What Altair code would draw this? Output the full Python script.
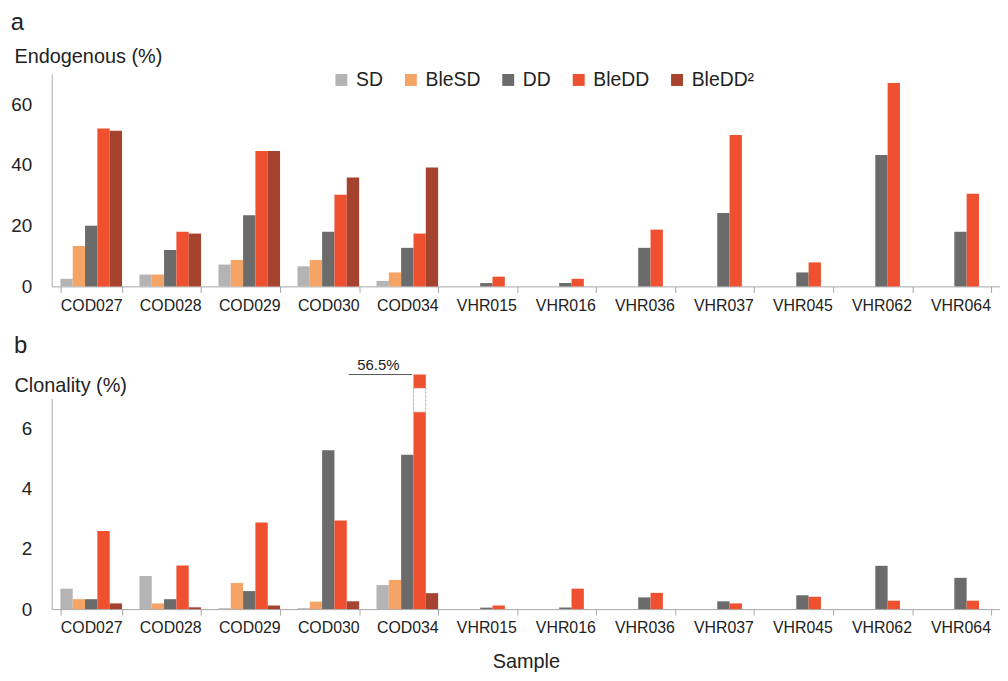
import altair as alt
import pandas as pd

samples = ["COD027", "COD028", "COD029", "COD030", "COD034", "VHR015",
           "VHR016", "VHR036", "VHR037", "VHR045", "VHR062", "VHR064"]
series = ["SD", "BleSD", "DD", "BleDD", "BleDD²"]
colors = ["#b4b4b4", "#f6a366", "#6b6b6b", "#ee5030", "#a6432f"]

# Panel a: Endogenous (%)  (None = no bar)
endo_SD = [2.5, 3.9, 7.2, 6.6, 1.8, None, None, None, None, None, None, None]
endo_BleSD = [13.3, 3.9, 8.7, 8.7, 4.6, None, None, None, None, None, None, None]
endo_DD = [20.0, 12.0, 23.4, 18.0, 12.7, 1.1, 1.1, 12.7, 24.2, 4.6, 43.3, 18.0]
endo_BleDD = [52.0, 18.0, 44.6, 30.2, 17.4, 3.2, 2.5, 18.7, 49.9, 7.9, 67.0, 30.5]
endo_BleDD2 = [51.3, 17.4, 44.6, 35.9, 39.2, None, None, None, None, None, None, None]

# Panel b: Clonality (%)
clon_SD = [0.68, 1.10, 0.03, 0.03, 0.80, None, None, None, None, None, None, None]
clon_BleSD = [0.33, 0.19, 0.87, 0.25, 0.97, None, None, None, None, None, None, None]
clon_DD = [0.33, 0.33, 0.60, 5.28, 5.13, 0.05, 0.05, 0.39, 0.26, 0.46, 1.44, 1.04]
clon_BleDD = [2.60, 1.45, 2.88, 2.95, 56.5, 0.12, 0.68, 0.54, 0.19, 0.41, 0.28, 0.28]
clon_BleDD2 = [0.19, 0.06, 0.12, 0.26, 0.53, None, None, None, None, None, None, None]

# broken-axis display for the off-scale bar
clon_cap = 7.8
break_low = 6.55
break_high = 7.35
broken_label = "56.5%"

FONT = "Liberation Sans"
AXIS_GRAY = "#a6a6a6"
TEXT = "#222222"


def long_df(cols):
    rows = []
    for s, vals in zip(series, cols):
        for samp, v in zip(samples, vals):
            if v is not None:
                rows.append({"sample": samp, "series": s, "value": v})
    return pd.DataFrame(rows)


endo_df = long_df([endo_SD, endo_BleSD, endo_DD, endo_BleDD, endo_BleDD2])
clon_df = long_df([clon_SD, clon_BleSD, clon_DD, clon_BleDD, clon_BleDD2])
clon_df["shown"] = clon_df["value"].clip(upper=clon_cap)

W = 955


def x_enc(title=None):
    kw = dict(labelAngle=0, tickBand="extent", ticks=True, tickSize=6,
              labelPadding=5, labelFontSize=16, grid=False,
              domainColor=AXIS_GRAY, tickColor=AXIS_GRAY)
    if title:
        kw.update(title=title, titleFontSize=20, titleFontWeight="normal",
                  titlePadding=16)
    return alt.X("sample:N", sort=samples,
                 scale=alt.Scale(domain=samples, paddingInner=0.22, paddingOuter=0.11),
                 axis=alt.Axis(**kw), title=title)


def y_axis(title, vals, title_y):
    return alt.Axis(values=vals, title=title, titleAngle=0, titleAlign="left",
                    titleX=-38, titleY=title_y, titleBaseline="alphabetic",
                    titleFontSize=20, titleFontWeight="normal", ticks=False,
                    grid=False, labelPadding=20, labelFontSize=19,
                    domainColor=AXIS_GRAY)


xoff = alt.XOffset("series:N", sort=series,
                   scale=alt.Scale(domain=series, paddingInner=0, paddingOuter=0))

top = alt.Chart(endo_df).mark_bar().encode(
    x=x_enc(),
    xOffset=xoff,
    y=alt.Y("value:Q", scale=alt.Scale(domain=[0, 70], nice=False),
            axis=y_axis("Endogenous (%)", [0, 20, 40, 60], -11)),
    color=alt.Color("series:N", sort=series,
                    scale=alt.Scale(domain=series, range=colors),
                    legend=alt.Legend(title=None, orient="none", legendX=282, legendY=-4,
                                      direction="horizontal", symbolType="square",
                                      symbolSize=144, symbolStrokeWidth=0,
                                      labelFontSize=19.5, labelOffset=5, columnPadding=18,
                                      labelColor=TEXT, labelFont=FONT)),
).properties(width=W, height=214,
             title=alt.TitleParams("a", anchor="start", fontSize=24, fontWeight="normal",
                                   font=FONT, color=TEXT, offset=12))

bars_b = alt.Chart(clon_df).mark_bar().encode(
    x=x_enc("Sample"),
    xOffset=xoff,
    y=alt.Y("shown:Q", scale=alt.Scale(domain=[0, 7], nice=False),
            axis=y_axis("Clonality (%)", [0, 2, 4, 6], -7)),
    color=alt.Color("series:N", sort=series,
                    scale=alt.Scale(domain=series, range=colors), legend=None),
)

break_df = pd.DataFrame({"sample": ["COD034"], "series": ["BleDD"],
                         "lo": [break_low], "hi": [break_high]})
break_mark = alt.Chart(break_df).mark_bar(
    fill="white", stroke="#ee9a88", strokeDash=[2, 2], strokeWidth=1
).encode(
    x=alt.X("sample:N", sort=samples), xOffset=xoff,
    y=alt.Y("lo:Q"), y2="hi:Q",
)

ann_df = pd.DataFrame({"label": [broken_label], "y": [clon_cap]})
ann_rule = alt.Chart(ann_df).mark_rule(color="#555555", strokeWidth=1).encode(
    y="y:Q", x=alt.value(299), x2=alt.value(363))
ann_text = alt.Chart(ann_df).mark_text(
    fontSize=15, font=FONT, color=TEXT, baseline="bottom", dy=-2
).encode(y="y:Q", x=alt.value(329), text="label:N")

bottom = alt.layer(bars_b, break_mark, ann_rule, ann_text).properties(
    width=W, height=212,
    title=alt.TitleParams("b", anchor="start", fontSize=24, fontWeight="normal",
                          font=FONT, color=TEXT, offset=0))

chart = alt.vconcat(top, bottom, spacing=20).resolve_scale(
    color="independent"
).properties(
    padding={"left": 2, "right": 0, "top": 1, "bottom": 2}
).configure(
    font=FONT
).configure_view(
    stroke=None
).configure_axis(
    labelFont=FONT, titleFont=FONT, labelColor=TEXT, titleColor=TEXT
).configure_title(
    font=FONT
)

chart.save("out.html", embed_options={"renderer": "svg", "actions": False})
